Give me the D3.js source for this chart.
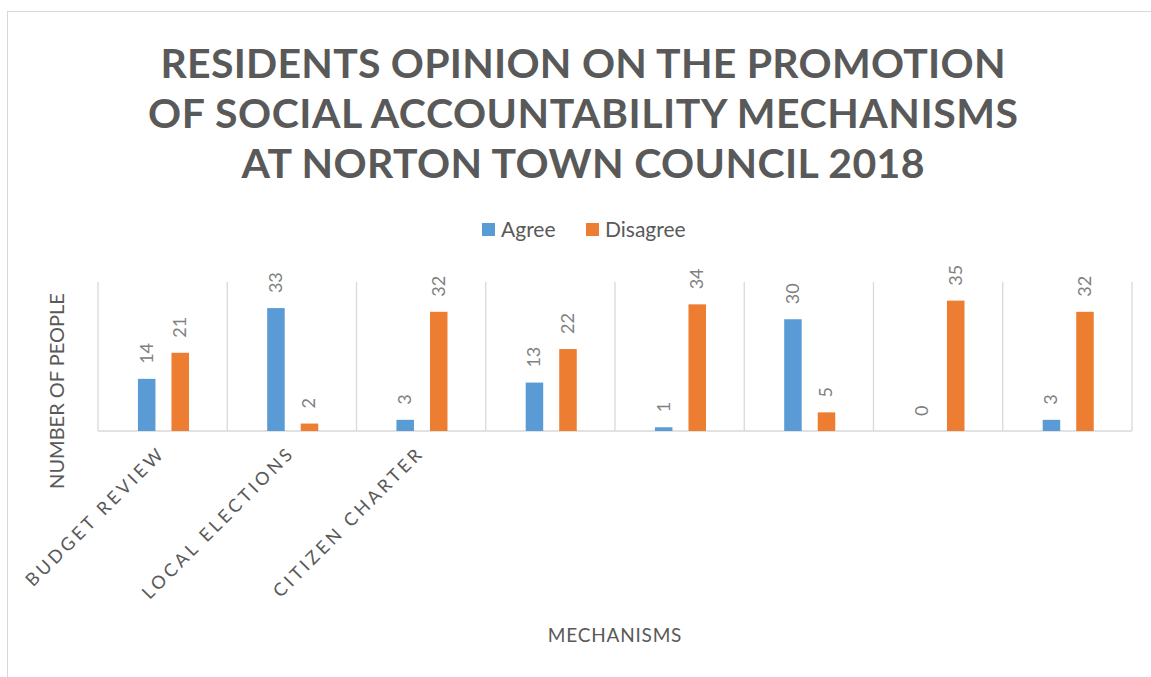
<!DOCTYPE html>
<html>
<head>
<meta charset="utf-8">
<script src="https://cdn.jsdelivr.net/npm/d3@7"></script>
<style>
  body { margin: 0; background: #fff; }
  svg text { font-family: Lato, "Open Sans", sans-serif; }
</style>
</head>
<body>
<div class="container"></div>
<script>
var titleLines = ["RESIDENTS OPINION ON THE PROMOTION", "OF SOCIAL ACCOUNTABILITY MECHANISMS", "AT NORTON TOWN COUNCIL 2018"];
var categories = ["Budget Review", "Local Elections", "Citizen Charter", "", "", "", "", ""];
var series = ["Agree", "Disagree"];
var agree = [14, 33, 3, 13, 1, 30, 0, 3];
var disagree = [21, 2, 32, 22, 34, 5, 35, 32];
var colors = ["#5b9bd5", "#ed7d31"];

var width = 1151,
  height = 677,
  margin = { top: 282, right: 19, bottom: 246, left: 98 };

var svg = d3.select(".container").append("svg")
  .attr("width", width)
  .attr("height", height);

// chart frame, runs off right and bottom
svg.append("rect")
  .attr("x", 7.5).attr("y", 11.5)
  .attr("width", 1200).attr("height", 700)
  .attr("fill", "#fff")
  .attr("stroke", "#d9d9d9");

// title
var titleWidths = [845, 870, 683];
svg.append("g").selectAll("text")
  .data(titleLines)
  .join("text")
  .attr("x", 583)
  .attr("y", (d, i) => 78 + i * 50)
  .attr("text-anchor", "middle")
  .attr("font-size", 41)
  .attr("font-weight", "bold")
  .attr("fill", "#595959")
  .attr("textLength", (d, i) => titleWidths[i])
  .attr("lengthAdjust", "spacing")
  .text(d => d);

// legend
var legend = svg.append("g");
var legendX = [482, 586];
series.forEach(function (s, i) {
  legend.append("rect")
    .attr("x", legendX[i]).attr("y", 223)
    .attr("width", 13).attr("height", 13)
    .attr("fill", colors[i]);
  legend.append("text")
    .attr("x", legendX[i] + 19).attr("y", 237)
    .attr("font-size", 21)
    .attr("fill", "#595959")
    .text(s);
});

var plotW = width - margin.left - margin.right,
  plotH = height - margin.top - margin.bottom;

var x0 = d3.scaleBand()
  .domain(d3.range(categories.length))
  .range([margin.left, margin.left + plotW]);

var x1 = d3.scaleBand()
  .domain(series)
  .range([x0.bandwidth() * 0.309, x0.bandwidth() * 0.704])
  .paddingInner(0.478);

var y = d3.scaleLinear()
  .domain([0, 40])
  .range([margin.top + plotH, margin.top]);

// vertical separators
svg.append("g").selectAll("line")
  .data(d3.range(categories.length + 1))
  .join("line")
  .attr("x1", d => margin.left + d * x0.step())
  .attr("x2", d => margin.left + d * x0.step())
  .attr("y1", margin.top)
  .attr("y2", y(0))
  .attr("stroke", "#d9d9d9")
  .attr("stroke-width", 1.3);

// baseline
svg.append("line")
  .attr("x1", margin.left).attr("x2", margin.left + plotW)
  .attr("y1", y(0)).attr("y2", y(0))
  .attr("stroke", "#d9d9d9")
  .attr("stroke-width", 1.5);

var rows = categories.map((c, i) => ({ i: i, values: [agree[i], disagree[i]] }));

var groups = svg.append("g").selectAll("g")
  .data(rows)
  .join("g")
  .attr("transform", d => "translate(" + x0(d.i) + ",0)");

groups.selectAll("rect")
  .data(d => d.values.map((v, k) => ({ key: series[k], v: v, k: k })))
  .join("rect")
  .attr("x", d => x1(d.key))
  .attr("y", d => y(d.v))
  .attr("width", x1.bandwidth())
  .attr("height", d => y(0) - y(d.v))
  .attr("fill", d => colors[d.k]);

groups.selectAll("text")
  .data(d => d.values.map((v, k) => ({ key: series[k], v: v, k: k })))
  .join("text")
  .attr("transform", d => "translate(" + (x1(d.key) + x1.bandwidth() / 2 + 6) + "," + (y(d.v) - 15) + ") rotate(-90)")
  .attr("font-size", 18)
  .attr("fill", "#808080")
  .text(d => d.v);

// category labels, rotated
svg.append("g").selectAll("text")
  .data(categories)
  .join("text")
  .attr("transform", (d, i) => "translate(" + (x0(i) + x0.bandwidth() / 2 + 4) + ",454) rotate(-45)")
  .attr("text-anchor", "end")
  .attr("font-size", 18)
  .attr("letter-spacing", 3.4)
  .attr("fill", "#595959")
  .text(d => d.toUpperCase());

// axis titles
svg.append("text")
  .attr("transform", "translate(64,391) rotate(-90)")
  .attr("text-anchor", "middle")
  .attr("font-size", 20)
  .attr("fill", "#595959")
  .text("NUMBER OF PEOPLE");

svg.append("text")
  .attr("x", margin.left + plotW / 2)
  .attr("y", 642)
  .attr("text-anchor", "middle")
  .attr("font-size", 19)
  .attr("letter-spacing", 0.8)
  .attr("fill", "#595959")
  .text("MECHANISMS");
</script>
</body>
</html>
